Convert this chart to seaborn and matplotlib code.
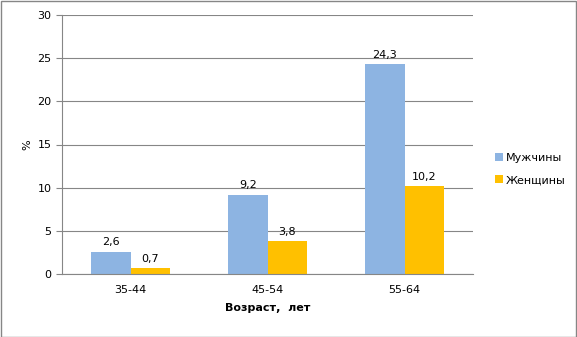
import matplotlib
matplotlib.use("Agg")
import matplotlib.pyplot as plt
import seaborn as sns
import pandas as pd

categories = ["35-44", "45-54", "55-64"]
men = [2.6, 9.2, 24.3]
women = [0.7, 3.8, 10.2]
series_names = ["Мужчины", "Женщины"]
colors = ["#8DB4E2", "#FFC000"]

df = pd.DataFrame({
    "age": categories * 2,
    "val": men + women,
    "sex": [series_names[0]] * 3 + [series_names[1]] * 3,
})

sns.set_style("white")
plt.rcParams["font.family"] = ["DejaVu Sans"]
plt.rcParams["text.color"] = "black"
plt.rcParams["axes.labelcolor"] = "black"
plt.rcParams["xtick.color"] = "black"
plt.rcParams["ytick.color"] = "black"

fig = plt.figure(figsize=(5.77, 3.37), dpi=100)
ax = fig.add_axes([62/577, 1 - 274/337, (473-62)/577, (274-15)/337])

sns.barplot(data=df, x="age", y="val", hue="sex", palette=colors, width=0.57,
            saturation=1, ax=ax, edgecolor="none", legend=True)

ax.set_ylim(0, 30)
ax.set_yticks(range(0, 31, 5))
ax.set_xlim(-0.5, 2.5)
ax.yaxis.grid(True, color="#868686", linewidth=0.8)
ax.set_axisbelow(True)
for s in ["top", "right"]:
    ax.spines[s].set_visible(False)
for s in ["left", "bottom"]:
    ax.spines[s].set_color("#868686")
    ax.spines[s].set_linewidth(0.8)
ax.set_xticks([-0.5, 0.5, 1.5, 2.5], minor=True)
ax.tick_params(axis="x", which="major", length=0, labelsize=8, pad=8, labelcolor="black")
ax.tick_params(axis="x", which="minor", length=4, color="#868686")
ax.tick_params(axis="y", length=4, color="#868686", labelsize=8, left=True, labelcolor="black")

for cont in ax.containers:
    ax.bar_label(cont, labels=[f"{v:.1f}".replace(".", ",") for v in cont.datavalues],
                 fontsize=8, padding=3, color="black")

ax.set_xlabel("Возраст,  лет", fontsize=8, fontweight="bold", labelpad=6)
ax.set_ylabel("%", fontsize=8, labelpad=4)

ax.legend(loc="center left", bbox_to_anchor=(485/577, 1 - 169/337),
          bbox_transform=fig.transFigure, frameon=False, fontsize=8,
          handlelength=0.7, handleheight=0.7, handletextpad=0.3, labelspacing=1.1)

fig.patches.append(plt.Rectangle((0.5/577, 0.5/337), 1 - 1.5/577, 1 - 1.5/337,
                                 transform=fig.transFigure, fill=False,
                                 edgecolor="#868686", linewidth=1))

fig.savefig("out.png", dpi=100)
